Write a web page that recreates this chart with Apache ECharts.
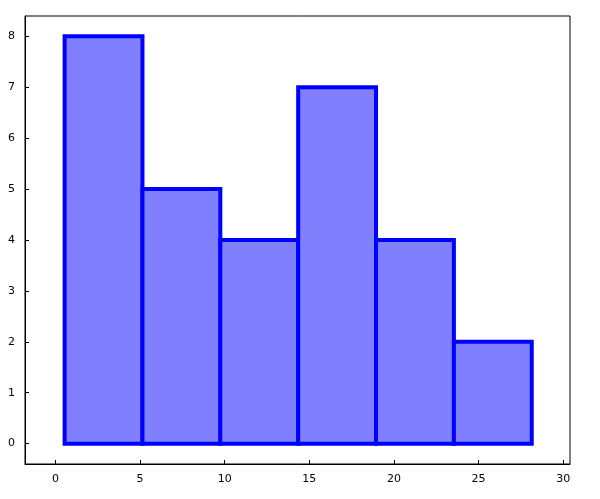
<!DOCTYPE html>
<html>
<head>
<meta charset="utf-8">
<script src="https://cdn.jsdelivr.net/npm/echarts@6/dist/echarts.min.js"></script>
<style>
  html, body { margin: 0; padding: 0; background: #fff; }
  #chart { width: 600px; height: 499px; }
</style>
</head>
<body>
<div id="chart"></div>
<script>
  // histogram bins: edges and counts
  const binEdges = [0.54, 5.14, 9.74, 14.34, 18.94, 23.54, 28.14];
  const binCounts = [8, 5, 4, 7, 4, 2];
  const xTicks = [0, 5, 10, 15, 20, 25, 30];
  const yTicks = [0, 1, 2, 3, 4, 5, 6, 7, 8];

  const bins = binCounts.map((c, i) => [binEdges[i], binEdges[i + 1], c]);

  const chart = echarts.init(document.getElementById('chart'));

  const labelFont = {
    color: '#000',
    fontFamily: 'DejaVu Sans',
    fontSize: 11,
  };

  const option = {
    animation: false,
    grid: {
      left: 25,
      right: 30,
      top: 16,
      bottom: 35,
      show: true,
      borderColor: '#000',
      borderWidth: 1,
    },
    xAxis: {
      type: 'value',
      min: -1.8,
      max: 30.4,
      splitLine: { show: false },
      axisLine: { show: true, onZero: false, lineStyle: { color: '#000', width: 1 } },
      axisTick: { show: true, inside: true, length: 4, customValues: xTicks, lineStyle: { color: '#000' } },
      axisLabel: { ...labelFont, margin: 10, customValues: xTicks },
    },
    yAxis: {
      type: 'value',
      min: -0.4,
      max: 8.4,
      splitLine: { show: false },
      axisLine: { show: true, onZero: false, lineStyle: { color: '#000', width: 1 } },
      axisTick: { show: true, inside: true, length: 4, customValues: yTicks, lineStyle: { color: '#000' } },
      axisLabel: { ...labelFont, margin: 10, customValues: yTicks },
    },
    series: [
      {
        type: 'custom',
        clip: true,
        data: bins,
        encode: { x: [0, 1], y: 2 },
        renderItem: function (params, api) {
          const p0 = api.coord([api.value(0), api.value(2)]);
          const p1 = api.coord([api.value(1), 0]);
          return {
            type: 'rect',
            shape: { x: p0[0], y: p0[1], width: p1[0] - p0[0], height: p1[1] - p0[1] },
            style: { fill: '#8080ff', stroke: '#0000ff', lineWidth: 4 },
          };
        },
      },
    ],
  };

  chart.setOption(option);
</script>
</body>
</html>
